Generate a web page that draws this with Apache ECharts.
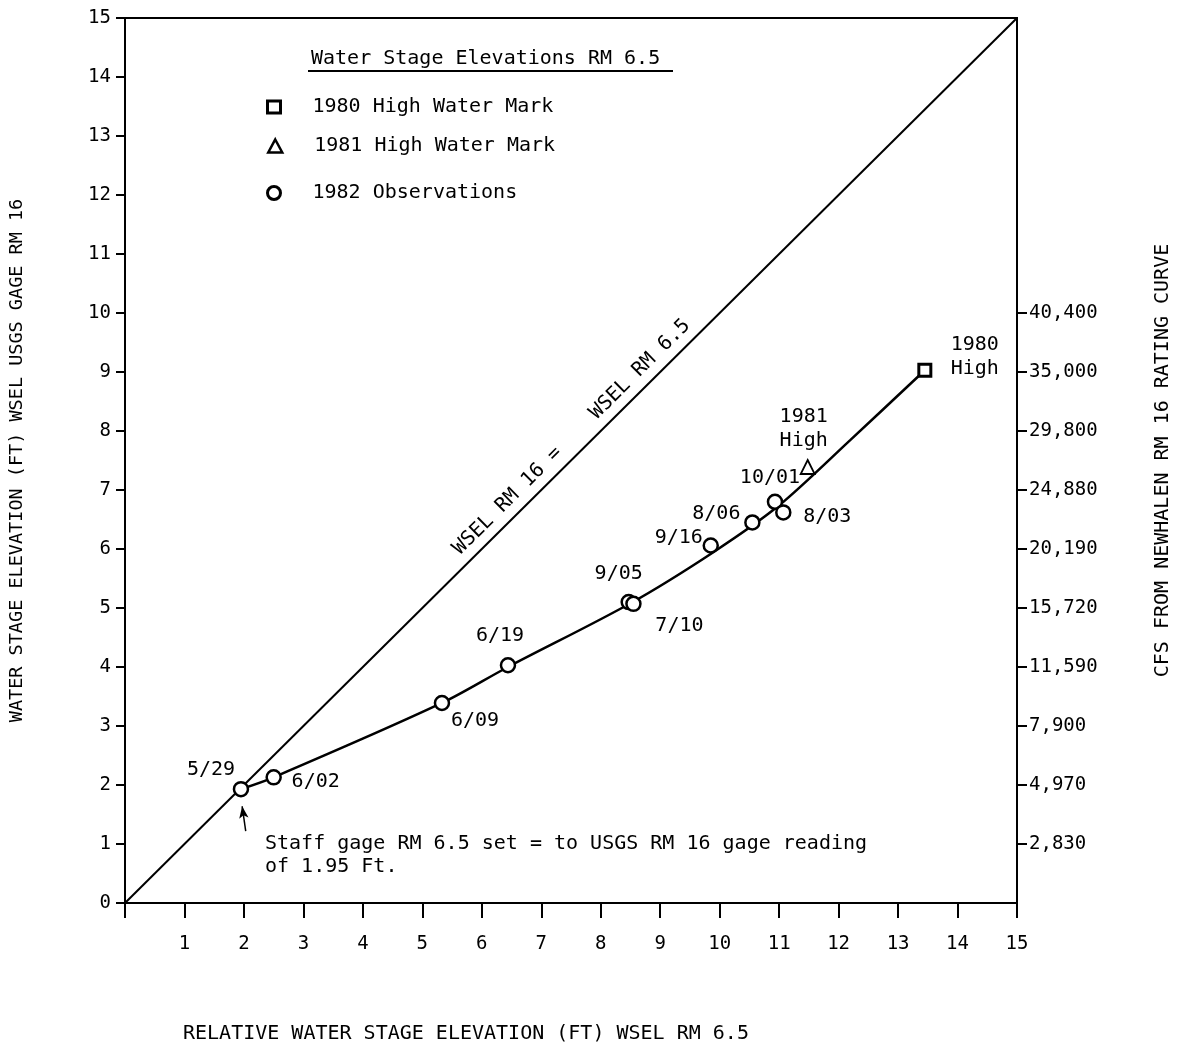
<!DOCTYPE html>
<html>
<head>
<meta charset="utf-8">
<title>Water Stage Elevations RM 6.5</title>
<script src="https://cdn.jsdelivr.net/npm/echarts@6/dist/echarts.min.js"></script>
<style>
  body { margin: 0; background: #fff; }
  #chart { width: 1187px; height: 1053px; }
</style>
</head>
<body>
<div id="chart"></div>
<script>
// 1982 observations (x = WSEL RM 6.5, y = WSEL RM 16)
var obsDates = ['5/29', '6/02', '6/09', '6/19', '9/05', '7/10', '9/16', '8/06', '10/01', '8/03'];
var obsX = [1.95, 2.5, 5.33, 6.44, 8.47, 8.55, 9.85, 10.55, 10.93, 11.07];
var obsY = [1.93, 2.13, 3.39, 4.03, 5.1, 5.07, 6.06, 6.45, 6.8, 6.62];

// high water marks
var high1980 = [13.45, 9.03];
var high1981 = [11.48, 7.39];

// fitted curve drawn through the observations
var curveX = [1.95, 2.5, 5.33, 6.44, 8.5, 9.9, 11.0, 12.2, 13.45];
var curveY = [1.93, 2.13, 3.39, 4.0, 5.08, 5.95, 6.74, 7.85, 9.03];

// line of equality
var equalLine = [[0, 0], [15, 15]];

// arrow pointing at the staff gage setting
var arrowFrom = [2.03, 1.22];
var arrowTo = [1.97, 1.64];

// right axis: cfs from Newhalen RM 16 rating curve at stage 1..10
var cfsLevels = [1, 2, 3, 4, 5, 6, 7, 8, 9, 10];
var cfsLabels = ['2,830', '4,970', '7,900', '11,590', '15,720', '20,190', '24,880', '29,800', '35,000', '40,400'];

var FONT = "'DejaVu Sans Mono', monospace";

// label offsets (label centre relative to the point, px)
var labelOffsets = {
    '5/29': [-30, -19], '6/02': [42, 4], '6/09': [33, 18], '6/19': [-8, -29],
    '9/05': [-10, -28], '7/10': [46, 22], '9/16': [-32, -8], '8/06': [-36, -9],
    '10/01': [-5, -24], '8/03': [44, 4]
};

var obsData = obsDates.map(function (d, i) {
    return {
        value: [obsX[i], obsY[i]],
        name: d,
        label: { show: true, offset: labelOffsets[d], formatter: d }
    };
});

var curveData = curveX.map(function (x, i) { return [x, curveY[i]]; });

var labelStyle = {
    color: '#000', fontFamily: FONT, fontSize: 20, textBorderWidth: 0,
    position: ['50%', '50%'], align: 'center', verticalAlign: 'middle'
};
var legendText = { color: '#000', fontFamily: FONT, fontSize: 20, padding: [0, 0, 0, 27] };

var chart = echarts.init(document.getElementById('chart'));
chart.setOption({
    animation: false,
    backgroundColor: '#fff',
    textStyle: { fontFamily: FONT, color: '#000' },
    title: [
        { text: 'Water Stage Elevations RM 6.5', left: 306, top: 44,
          textStyle: { fontFamily: FONT, fontSize: 20, fontWeight: 'normal', color: '#000' } },
        { text: 'RELATIVE WATER STAGE ELEVATION (FT) WSEL RM 6.5', left: 178, top: 1019,
          textStyle: { fontFamily: FONT, fontSize: 20, fontWeight: 'normal', color: '#000' } }
    ],
    legend: [
        { data: ['1980 High Water Mark'], left: 261, top: 92, itemWidth: 13, itemHeight: 12,
          itemStyle: { borderWidth: 3 }, textStyle: legendText },
        { data: ['1981 High Water Mark'], left: 262, top: 131, itemWidth: 14, itemHeight: 13,
          itemStyle: { borderWidth: 2.5 }, textStyle: legendText },
        { data: ['1982 Observations'], left: 261, top: 178, itemWidth: 13, itemHeight: 13,
          itemStyle: { borderWidth: 3 }, textStyle: legendText }
    ],
    grid: { left: 125, right: 170, top: 18, bottom: 150, show: true, borderColor: '#000', borderWidth: 2 },
    xAxis: {
        type: 'value', min: 0, max: 15, interval: 1,
        axisLine: { lineStyle: { color: '#000', width: 2 } },
        axisTick: { length: 15, lineStyle: { color: '#000', width: 2 } },
        axisLabel: { margin: 32, color: '#000', fontFamily: FONT, fontSize: 19,
                     formatter: function (v) { return v === 0 ? '' : v; } },
        splitLine: { show: false }
    },
    yAxis: [
        {
            type: 'value', min: 0, max: 15, interval: 1,
            name: 'WATER STAGE ELEVATION (FT) WSEL USGS GAGE RM 16',
            nameLocation: 'middle', nameGap: 98,
            nameTextStyle: { fontFamily: FONT, fontSize: 18.5, color: '#000' },
            axisLine: { lineStyle: { color: '#000', width: 2 } },
            axisTick: { length: 9, lineStyle: { color: '#000', width: 2 } },
            axisLabel: { margin: 14, color: '#000', fontFamily: FONT, fontSize: 19 },
            splitLine: { show: false }
        },
        {
            type: 'value', min: 0, max: 15, interval: 1, position: 'right',
            name: 'CFS FROM NEWHALEN RM 16 RATING CURVE',
            nameLocation: 'middle', nameGap: 136,
            nameTextStyle: { fontFamily: FONT, fontSize: 20, color: '#000' },
            axisLine: { show: true, lineStyle: { color: '#000', width: 2 } },
            axisTick: { length: 10, customValues: cfsLevels, lineStyle: { color: '#000', width: 2 } },
            axisLabel: { margin: 12, color: '#000', fontFamily: FONT, fontSize: 19,
                         customValues: cfsLevels,
                         formatter: function (v) { return cfsLabels[cfsLevels.indexOf(v)] || ''; } },
            splitLine: { show: false }
        }
    ],
    graphic: [
        { type: 'line', shape: { x1: 308, y1: 71, x2: 673, y2: 71 }, style: { stroke: '#000', lineWidth: 2 } },
        { type: 'text', left: 265, top: 832,
          style: { text: 'Staff gage RM 6.5 set = to USGS RM 16 gage reading\nof 1.95 Ft.',
                   font: '20px ' + FONT, fill: '#000', lineHeight: 23 } }
    ],
    series: [
        {
            name: 'equal', type: 'line', data: equalLine, symbol: 'none',
            lineStyle: { color: '#000', width: 2 }, silent: true, z: 1,
            markLine: {
                silent: true, symbol: ['none', 'none'],
                lineStyle: { color: '#000', width: 0, type: 'solid' },
                label: { show: true, position: 'middle', distance: 6, padding: [0, 0, 0, 34],
                         formatter: 'WSEL RM 16 =    WSEL RM 6.5',
                         color: '#000', fontFamily: FONT, fontSize: 20 },
                data: [[{ coord: equalLine[0] }, { coord: equalLine[1] }]]
            }
        },
        {
            name: 'curve', type: 'line', data: curveData, symbol: 'none', smooth: 0.3,
            lineStyle: { color: '#000', width: 2.5 }, silent: true, z: 2,
            markLine: {
                silent: true, symbol: ['none', 'arrow'], symbolSize: [7, 12],
                lineStyle: { color: '#000', width: 1.5, type: 'solid' },
                label: { show: false },
                data: [[{ coord: arrowFrom }, { coord: arrowTo }]]
            }
        },
        {
            name: '1980 High Water Mark', type: 'scatter', symbol: 'rect', symbolSize: 12,
            data: [{ value: high1980,
                     label: { show: true, offset: [50, -13], formatter: '1980\nHigh', lineHeight: 24 } }],
            itemStyle: { color: '#fff', borderColor: '#000', borderWidth: 3, opacity: 1 },
            label: labelStyle, z: 5
        },
        {
            name: '1981 High Water Mark', type: 'scatter', symbol: 'triangle', symbolSize: 14,
            data: [{ value: high1981,
                     label: { show: true, offset: [-4, -38], formatter: '1981\nHigh', lineHeight: 24 } }],
            itemStyle: { color: '#fff', borderColor: '#000', borderWidth: 1.8, opacity: 1 },
            label: labelStyle, z: 5
        },
        {
            name: '1982 Observations', type: 'scatter', symbol: 'circle', symbolSize: 14,
            data: obsData, itemStyle: { color: '#fff', borderColor: '#000', borderWidth: 2.5, opacity: 1 },
            label: labelStyle, z: 5
        }
    ]
});
</script>
</body>
</html>
